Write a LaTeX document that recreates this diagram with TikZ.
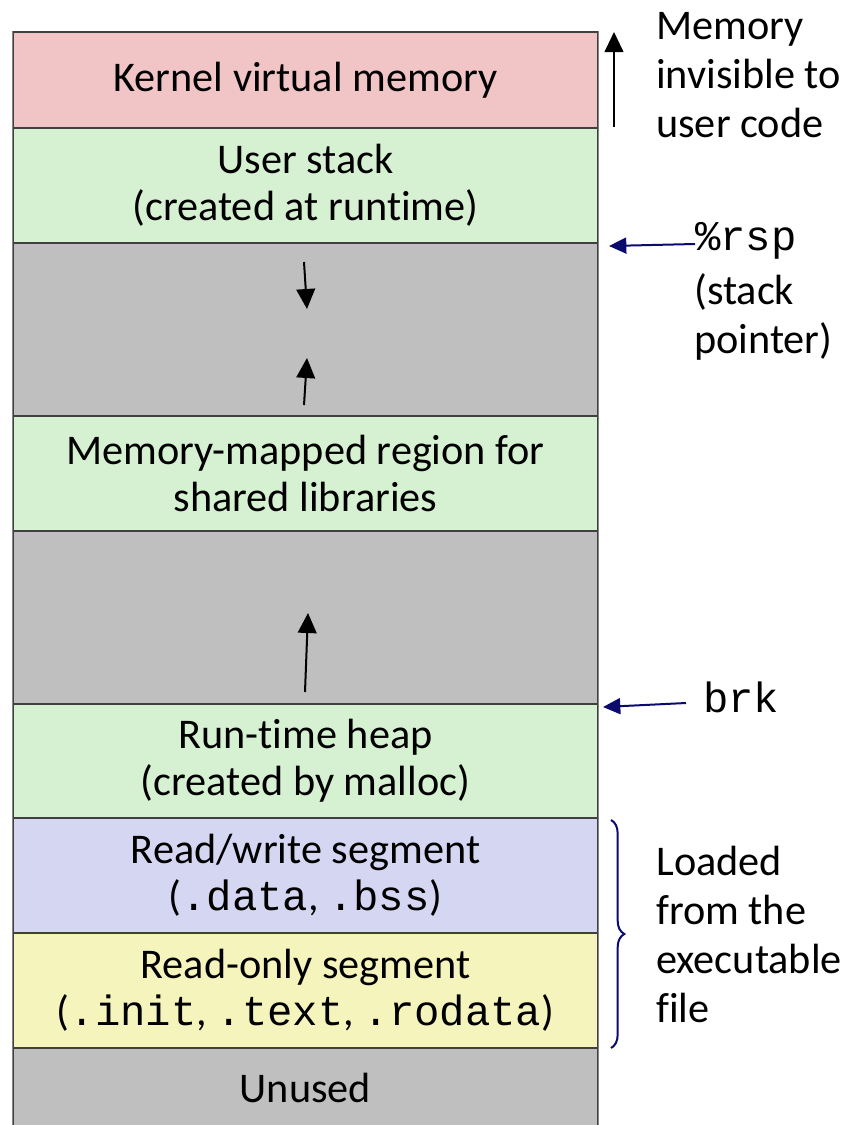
\documentclass[tikz,border=0pt]{standalone}
\usepackage{fontspec}
\setmainfont{Carlito}[Ligatures=NoCommon]
\newfontfamily\codefont{Liberation Mono}
\usetikzlibrary{arrows.meta,decorations.pathreplacing}

\definecolor{kernelpink}{HTML}{F1C5C5}
\definecolor{usergreen}{HTML}{D6F0D2}
\definecolor{gapgray}{HTML}{BFBFBF}
\definecolor{rwblue}{HTML}{D5D6F2}
\definecolor{royellow}{HTML}{F5F4BD}
\definecolor{sepline}{HTML}{404040}
\definecolor{sideline}{HTML}{858585}
\definecolor{navyink}{HTML}{0B0B6E}

\newcommand\biglabel{\fontsize{31.7pt}{35.25pt}\selectfont}
\newcommand\sidelabel{\fontsize{31.7pt}{36.75pt}\selectfont}
\newcommand\mono[1]{{\codefont #1}}

\begin{document}
\begin{tikzpicture}[x=0.75pt,y=-0.75pt,
  region/.style={draw=sepline, line width=1.1pt, minimum width=438.75pt,
    inner sep=0pt, align=center, font=\biglabel},
  growth/.style={line width=1.5pt, -{Triangle[length=15pt,width=14pt]}},
  pointer/.style={draw=navyink, line width=1.5pt, -{Triangle[length=13pt,width=12pt]}},
  note/.style={font=\sidelabel, align=left, inner sep=0pt}]
\useasboundingbox (0,0) rectangle (846,1125);

% address-space regions, high addresses at the top
\node[region, fill=kernelpink, minimum height=72pt]   (kernel) at (305.5,80)   {Kernel virtual memory};
\node[region, fill=usergreen, minimum height=86.25pt] (stack)  at (305.5,185.5) {User stack\\(created at runtime)};
\node[region, fill=gapgray, minimum height=129.75pt]  (gapA)   at (305.5,329.5) {};
\node[region, fill=usergreen, minimum height=86.25pt] (mmap)   at (305.5,473.5) {Memory-mapped region for\\shared libraries};
\node[region, fill=gapgray, minimum height=129.75pt]  (gapB)   at (305.5,617.5) {};
\node[region, fill=usergreen, minimum height=85.5pt]  (heap)   at (305.5,761)   {Run-time heap\\(created by malloc)};
\node[region, fill=rwblue, minimum height=86.25pt]    (rw)     at (305.5,875.5) {Read/write segment\\(\mono{.data}, \mono{.bss})};
\node[region, fill=royellow, minimum height=86.25pt]  (ro)     at (305.5,990.5) {Read-only segment\\(\mono{.init}, \mono{.text}, \mono{.rodata})};
\node[region, fill=gapgray, minimum height=60pt]      (unused) at (305.5,1088)  {Unused};

% lighter outer sides of the column
\draw[sideline, line width=1.1pt] (kernel.north west) -- (unused.south west);
\draw[sideline, line width=1.1pt] (kernel.north east) -- (unused.south east);

% growth directions of stack and heap
\coordinate (sdA) at (304,262); \coordinate (sdB) at (307,309);
\coordinate (suA) at (304,405); \coordinate (suB) at (307,358);
\coordinate (huA) at (305,692); \coordinate (huB) at (308,613);
\draw[growth] (sdA) -- (sdB);
\draw[growth] (suA) -- (suB);
\draw[growth] (huA) -- (huB);

% kernel note (anchored at the baseline of its last line)
\coordinate (kupA) at (614,127); \coordinate (kupB) at (614,32);
\draw[growth] (kupA) -- (kupB);
\node[note, anchor=base west] (kernnote) at (656,137) {Memory\\invisible to\\user code};

% stack pointer
\node[note, anchor=base west] (rsp) at (695,250) {\mono{\%rsp}};
\node[note, anchor=base west] (rspnote) at (694,353) {(stack\\pointer)};
\coordinate (rsptip) at (609,246);
\draw[pointer] (rsp.west |- 0,244) -- (rsptip);

% program break
\node[note, anchor=base west] (brk) at (703,712) {\mono{brk}};
\coordinate (brktip) at (603,707);
\draw[pointer] (brk.west |- 0,703) ++(-17,0) -- (brktip);

% segments loaded from the executable
\coordinate (brtop) at (611,820);
\coordinate (brbot) at (611,1048);
\draw[navyink, line width=1.5pt, decoration={brace, amplitude=10pt}, decorate] (brtop) -- (brbot);
\node[note, anchor=base west] (loadnote) at (656,1022) {Loaded\\from the\\executable\\file};
\end{tikzpicture}
\end{document}
